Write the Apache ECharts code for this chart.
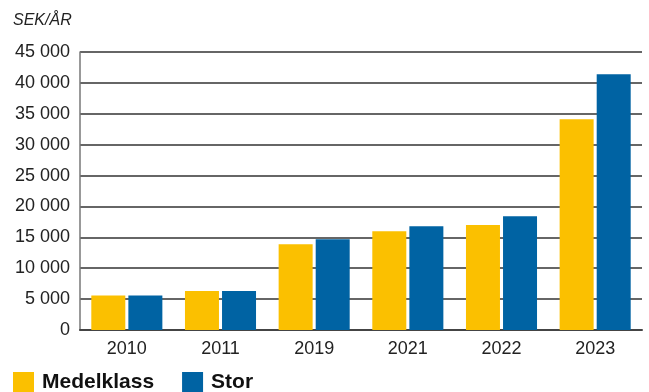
<!DOCTYPE html>
<html><head><meta charset="utf-8">
<script src="https://cdn.jsdelivr.net/npm/echarts@6/dist/echarts.min.js"></script>
<style>html,body{margin:0;padding:0;background:#fff}#c{width:649px;height:392px}</style>
</head><body><div id="c"></div>
<script>
const categories = ['2010','2011','2019','2021','2022','2023'];
const medelklass = [5600, 6300, 13900, 16000, 17000, 34100];
const stor = [5600, 6300, 14700, 16800, 18400, 41400];
const seriesNames = ['Medelklass','Stor'];
const unitLabel = 'SEK/ÅR';

const font = 'Liberation Sans';
const chart = echarts.init(document.getElementById('c'));
chart.setOption({
  animation: false,
  textStyle: {fontFamily: font},
  title: {text: unitLabel, left: 8, top: 8, textStyle: {fontFamily: font, fontStyle: 'italic', fontWeight: 'normal', fontSize: 16, color: '#222'}},
  legend: {
    left: 13, top: 372, padding: 0, itemWidth: 21, itemHeight: 21, itemGap: 28, icon: 'rect',
    textStyle: {fontFamily: font, fontWeight: 'bold', fontSize: 21, color: '#111', padding: [0,0,0,3]},
    data: seriesNames
  },
  grid: {left: 80, right: 7, top: 52, bottom: 62},
  xAxis: {
    type: 'category', data: categories,
    axisLine: {lineStyle: {color: '#444', width: 2}},
    axisTick: {show: false},
    axisLabel: {fontSize: 18, color: '#222', margin: 10}
  },
  yAxis: {
    type: 'value', min: 0, max: 45000, interval: 5000,
    axisLine: {show: true, lineStyle: {color: '#777', width: 1.5}},
    axisTick: {show: false},
    splitLine: {lineStyle: {color: '#333', width: 1.5}},
    axisLabel: {fontSize: 18, color: '#222', margin: 10,
      formatter: v => v === 0 ? '0' : String(v).replace(/\B(?=(\d{3})+(?!\d))/g, ' ')}
  },
  series: [
    {name: seriesNames[0], type: 'bar', data: medelklass, barWidth: 34, barGap: '9%', itemStyle: {color: '#FBC000'}},
    {name: seriesNames[1], type: 'bar', data: stor, barWidth: 34, itemStyle: {color: '#0063A3'}}
  ]
});
</script></body></html>
